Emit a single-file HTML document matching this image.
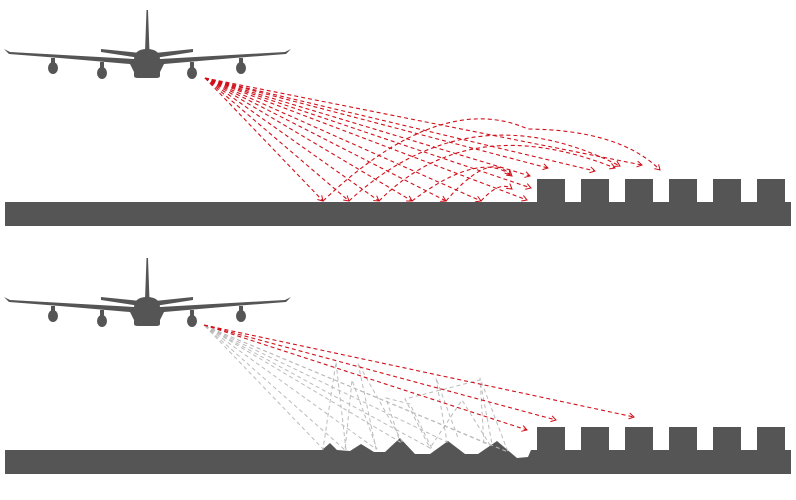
<!DOCTYPE html>
<html><head><meta charset="utf-8"><style>html,body{margin:0;padding:0;background:#fff}svg{display:block}</style></head>
<body>
<svg width="796" height="500" viewBox="0 0 796 500" xmlns="http://www.w3.org/2000/svg">
<defs>
<marker id="ar" markerWidth="8" markerHeight="8" refX="6" refY="4" orient="auto" markerUnits="userSpaceOnUse">
<path d="M1,1 L6,4 L1,7" fill="none" stroke="#d0101a" stroke-width="1"/></marker>
<g id="plane" fill="#555">
<path d="M145,52 L146.5,10 L148,10 L149.5,52 Z"/>
<path d="M101,49 L140,53 L155,53 L193,49 L193,52 L155,58 L140,58 L101,52 Z"/>
<path d="M4,49 L9,54 L60,58 L130,64 L134,72 L160,72 L164,64 L234,58 L286,54 L291,49 L285,52 L160,59 L134,59 L10,52 Z"/>
<path d="M134,76 L134,60 Q134,49 147,49 Q160,49 160,60 L160,76 Q160,78 156,78 L138,78 Q134,78 134,76 Z"/>
<ellipse cx="53" cy="68" rx="5" ry="6"/><ellipse cx="102" cy="73" rx="5" ry="6"/>
<ellipse cx="192" cy="73" rx="5" ry="6"/><ellipse cx="241" cy="68" rx="5" ry="6"/>
<rect x="51" y="58" width="4" height="6"/><rect x="100" y="62" width="4" height="6"/>
<rect x="190" y="62" width="4" height="6"/><rect x="239" y="58" width="4" height="6"/>
</g>
</defs>
<use href="#plane"/>
<use href="#plane" y="248"/>
<rect x="5" y="202" width="786" height="24" fill="#555"/>
<g fill="#555">
<rect x="537" y="179" width="28" height="24"/><rect x="581" y="179" width="28" height="24"/>
<rect x="625" y="179" width="28" height="24"/><rect x="669" y="179" width="28" height="24"/>
<rect x="713" y="179" width="28" height="24"/><rect x="757" y="179" width="28" height="24"/>
</g>
<g fill="none" stroke="#d0101a" stroke-width="1.1" stroke-dasharray="4,3" marker-end="url(#ar)">
<path d="M205,78 L323,201"/><path d="M205,78 L349,201"/><path d="M205,78 L379,201"/>
<path d="M205,78 L412,201"/><path d="M205,78 L446,201"/><path d="M205,78 L481,201"/>
<path d="M205,78 L527,200"/><path d="M205,78 L531,188"/><path d="M205,78 L530,176"/>
<path d="M205,78 L548,168"/><path d="M205,78 L595,171"/><path d="M205,78 L642,165"/>
<path d="M323,201 Q440,90 528,129 Q620,130 660,170"/>
<path d="M349,201 Q470,90 620,166"/>
<path d="M379,201 Q470,110 615,168"/>
<path d="M412,201 Q480,150 512,176"/>
<path d="M446,201 Q490,150 510,175"/>
<path d="M481,201 Q500,180 512,189"/>
</g>
<path fill="#555" d="M5,450 L322,450 L330,443 L337,450 L350,451 L361,444 L374,452 L385,452 L400,438 L415,454 L430,454 L448,441 L465,454 L478,454 L497,441 L517,458 L528,457 L531,450 L537,450 L537,427 L565,427 L565,450 L581,450 L581,427 L609,427 L609,450 L625,450 L625,427 L653,427 L653,450 L669,450 L669,427 L697,427 L697,450 L713,450 L713,427 L741,427 L741,450 L757,450 L757,427 L785,427 L785,450 L791,450 L791,474 L5,474 Z"/>
<g fill="none" stroke="#bbb" stroke-width="1" stroke-dasharray="4,3">
<path d="M205,326 L323,449 L336,362 L346,450"/>
<path d="M205,326 L345,450 L352,380 L377,449"/>
<path d="M205,326 L376,449 L358,363 L403,443"/>
<path d="M205,326 L400,442 L386,398 L410,404 L432,449"/>
<path d="M205,326 L430,448 L405,399 L480,380 L492,444"/>
<path d="M205,326 L447,442 L436,378 L458,438"/>
<path d="M205,326 L490,445 L462,400 L430,448"/>
<path d="M205,326 L508,452 L480,378 L484,445"/>
</g>
<g fill="none" stroke="#d0101a" stroke-width="1.1" stroke-dasharray="4,3" marker-end="url(#ar)">
<path d="M204,325 L634,417"/><path d="M204,325 L556,420"/><path d="M204,325 L527,430"/>
</g>
</svg>
</body></html>
